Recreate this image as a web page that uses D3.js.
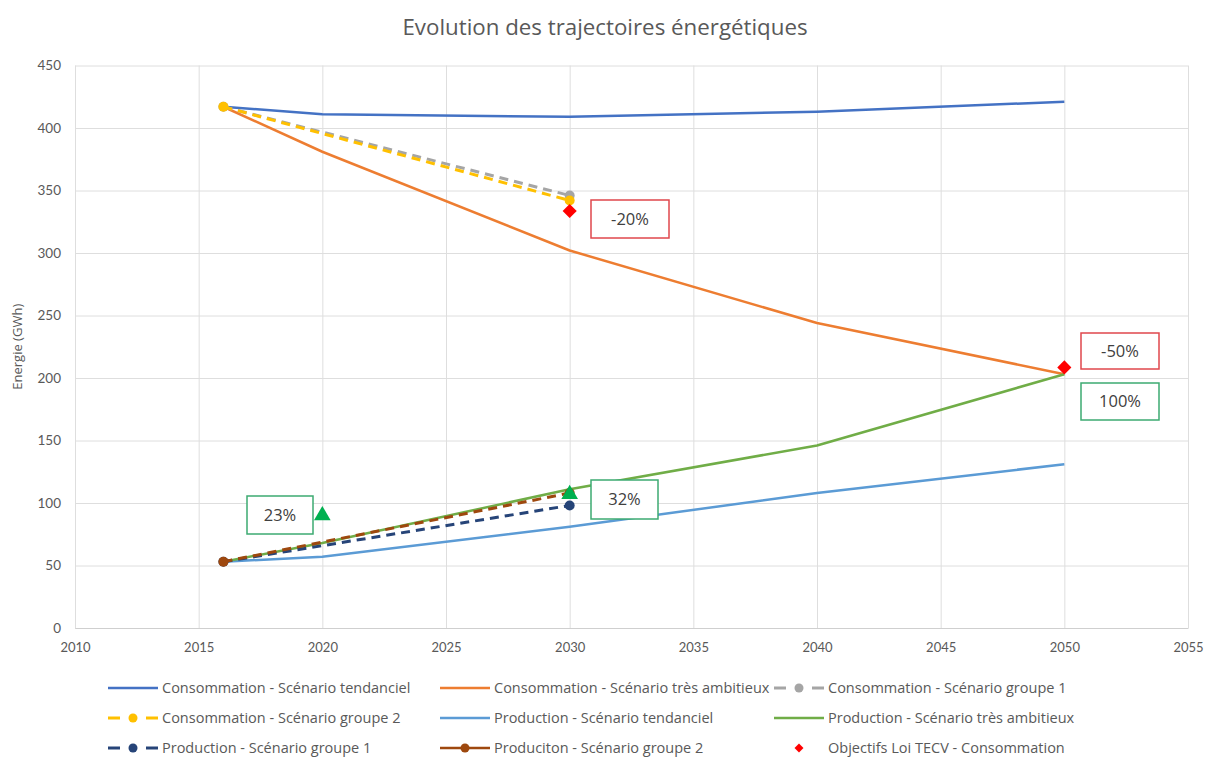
<!DOCTYPE html>
<html>
<head>
<meta charset="utf-8">
<script src="https://cdn.jsdelivr.net/npm/d3@7"></script>
<style>
  html, body { margin: 0; padding: 0; background: #fff; }
  svg { display: block; }
</style>
</head>
<body>
<svg id="chart" width="1208" height="774"></svg>
<script>
// ---- Données ----
const xTickValues = [2010, 2015, 2020, 2025, 2030, 2035, 2040, 2045, 2050, 2055];
const yTickValues = [0, 50, 100, 150, 200, 250, 300, 350, 400, 450];

const consoTendancielYears = [2016, 2020, 2030, 2040, 2050];
const consoTendancielValues = [417, 411, 409, 413, 421];

const consoAmbitieuxYears = [2016, 2020, 2030, 2040, 2050];
const consoAmbitieuxValues = [417, 381, 302, 244, 203];

const consoGroupe1Years = [2016, 2030];
const consoGroupe1Values = [417, 346];

const consoGroupe2Years = [2016, 2030];
const consoGroupe2Values = [417, 342];

const prodTendancielYears = [2016, 2020, 2030, 2040, 2050];
const prodTendancielValues = [53, 57, 81, 108, 131];

const prodAmbitieuxYears = [2016, 2020, 2030, 2040, 2050];
const prodAmbitieuxValues = [53, 68, 111, 146, 203];

const prodGroupe1Years = [2016, 2030];
const prodGroupe1Values = [53, 98];

const prodGroupe2Years = [2016, 2030];
const prodGroupe2Values = [53, 108];

const objectifsConsoYears = [2030, 2050];
const objectifsConsoValues = [333.6, 208.5];

const objectifsProdYears = [2020, 2030];
const objectifsProdValues = [90, 107];

const annotationLabels = ["-20%", "-50%", "100%", "23%", "32%"];

// ---- Mise en page ----
const svg = d3.select("#chart");
const W = 1208, H = 774;
const margin = { left: 75, right: 20, top: 65.5, bottom: 146 };
const plotW = 1188 - margin.left;
const plotH = 628 - margin.top;

const x = d3.scaleLinear().domain([2010, 2055]).range([margin.left, margin.left + plotW]);
const y = d3.scaleLinear().domain([0, 450]).range([margin.top + plotH, margin.top]);

const textColor = "#595959";
const gridColor = "#dedede";
const baseFont = "Lato, 'Open Sans', sans-serif";
const legendFont = "'Open Sans', sans-serif";

svg.append("rect").attr("width", W).attr("height", H).attr("fill", "#fff");

// Titre
svg.append("text")
  .attr("x", 605).attr("y", 35)
  .attr("text-anchor", "middle")
  .attr("font-family", "'Open Sans', sans-serif")
  .attr("font-size", 22.3)
  .attr("fill", textColor)
  .text("Evolution des trajectoires énergétiques");

// Grille
const gridY = svg.append("g")
  .attr("transform", `translate(${margin.left},0)`)
  .call(d3.axisLeft(y).tickValues(yTickValues).tickSize(-plotW).tickFormat(""));
gridY.select(".domain").remove();
gridY.selectAll("line").attr("stroke", gridColor).attr("stroke-width", 1);

const gridX = svg.append("g")
  .attr("transform", `translate(0,${margin.top + plotH})`)
  .call(d3.axisBottom(x).tickValues(xTickValues).tickSize(-plotH).tickFormat(""));
gridX.select(".domain").remove();
gridX.selectAll("line").attr("stroke", gridColor).attr("stroke-width", 1);

// Axe X (ligne de base + libellés)
const axX = svg.append("g")
  .attr("transform", `translate(0,${margin.top + plotH})`)
  .call(d3.axisBottom(x).tickValues(xTickValues).tickSize(0).tickPadding(15).tickFormat(d3.format("d")));
axX.select(".domain").attr("stroke", "#cfcfcf");
axX.selectAll("text").attr("font-family", baseFont).attr("font-size", 13).attr("fill", textColor);

// Axe Y
const axY = svg.append("g")
  .attr("transform", `translate(${margin.left},0)`)
  .call(d3.axisLeft(y).tickValues(yTickValues).tickSize(0).tickPadding(14).tickFormat(d3.format("d")));
axY.select(".domain").remove();
axY.selectAll("text").attr("font-family", baseFont).attr("font-size", 13.5).attr("fill", textColor);

svg.append("text")
  .attr("transform", `translate(22,${margin.top + plotH / 2}) rotate(-90)`)
  .attr("text-anchor", "middle")
  .attr("font-family", legendFont)
  .attr("font-size", 13)
  .attr("fill", textColor)
  .text("Energie (GWh)");

// ---- Séries ----
const zip = (ys, vs) => ys.map((yr, i) => ({ year: yr, value: vs[i] }));

const series = [
  { name: "Consommation - Scénario tendanciel", data: zip(consoTendancielYears, consoTendancielValues), color: "#4472C4", dash: null, marker: false },
  { name: "Consommation - Scénario très ambitieux", data: zip(consoAmbitieuxYears, consoAmbitieuxValues), color: "#ED7D31", dash: null, marker: false },
  { name: "Consommation - Scénario groupe 1", data: zip(consoGroupe1Years, consoGroupe1Values), color: "#A5A5A5", dash: "9,6", marker: true },
  { name: "Consommation - Scénario groupe 2", data: zip(consoGroupe2Years, consoGroupe2Values), color: "#FFC000", dash: "9,6", marker: true },
  { name: "Production - Scénario tendanciel", data: zip(prodTendancielYears, prodTendancielValues), color: "#5B9BD5", dash: null, marker: false },
  { name: "Production - Scénario très ambitieux", data: zip(prodAmbitieuxYears, prodAmbitieuxValues), color: "#70AD47", dash: null, marker: false },
  { name: "Production - Scénario groupe 1", data: zip(prodGroupe1Years, prodGroupe1Values), color: "#264478", dash: "9,6", marker: true },
  { name: "Produciton - Scénario groupe 2", data: zip(prodGroupe2Years, prodGroupe2Values), color: "#9E480E", dash: "9,6", marker: true, legendSolid: true },
  { name: "Objectifs Loi TECV - Consommation", data: zip(objectifsConsoYears, objectifsConsoValues), color: "#FF0000", dash: null, marker: "diamond", noLine: true }
];

const line = d3.line().x(d => x(d.year)).y(d => y(d.value));
const plot = svg.append("g");

series.forEach(s => {
  if (!s.noLine) {
    plot.append("path")
      .datum(s.data)
      .attr("fill", "none")
      .attr("stroke", s.color)
      .attr("stroke-width", s.dash ? 3 : 2.5)
      .attr("stroke-dasharray", s.dash)
      .attr("stroke-linejoin", "round")
      .attr("d", line);
  }
  if (s.marker === true) {
    plot.selectAll(null).data(s.data).enter().append("circle")
      .attr("cx", d => x(d.year)).attr("cy", d => y(d.value))
      .attr("r", 5).attr("fill", s.color);
  }
});

// Objectifs de production (triangles)
const tri = d3.symbol().type(d3.symbolTriangle).size(120);
plot.selectAll(null).data(zip(objectifsProdYears, objectifsProdValues)).enter().append("path")
  .attr("d", tri)
  .attr("transform", d => `translate(${x(d.year)},${y(d.value)})`)
  .attr("fill", "#00B050");

// Objectifs de consommation (losanges)
const diamond = d3.symbol().type(d3.symbolSquare).size(100);
plot.selectAll(null).data(series[8].data).enter().append("path")
  .attr("d", diamond)
  .attr("transform", d => `translate(${x(d.year)},${y(d.value)}) rotate(45)`)
  .attr("fill", "#FF0000");

// ---- Étiquettes encadrées ----
const boxLayout = [
  { x0: 591, y0: 200, x1: 669, y1: 238, stroke: "#E0474C" },
  { x0: 1081, y0: 333, x1: 1159, y1: 369, stroke: "#E0474C" },
  { x0: 1081, y0: 383, x1: 1159, y1: 420, stroke: "#3DAA72" },
  { x0: 247, y0: 496, x1: 313, y1: 534, stroke: "#3DAA72" },
  { x0: 591, y0: 480, x1: 658, y1: 519, stroke: "#3DAA72" }
];
const boxes = svg.append("g");
annotationLabels.forEach((label, i) => {
  const b = boxLayout[i];
  boxes.append("rect")
    .attr("x", b.x0).attr("y", b.y0)
    .attr("width", b.x1 - b.x0).attr("height", b.y1 - b.y0)
    .attr("fill", "#fff").attr("stroke", b.stroke).attr("stroke-width", 1.5);
  boxes.append("text")
    .attr("x", (b.x0 + b.x1) / 2).attr("y", (b.y0 + b.y1) / 2)
    .attr("dy", "0.36em")
    .attr("text-anchor", "middle")
    .attr("font-family", "'Open Sans', sans-serif")
    .attr("font-size", 16.5)
    .attr("fill", "#404040")
    .text(label);
});

// ---- Légende ----
const colX = [108, 440, 774];
const rowY = [688, 718, 748];
const legend = svg.append("g");
series.forEach((s, i) => {
  const cx = colX[i % 3], cy = rowY[Math.floor(i / 3)];
  const g = legend.append("g").attr("transform", `translate(${cx},${cy})`);
  const lw = 50;
  if (s.marker === "diamond") {
    g.append("path").attr("d", diamond.size(40))
      .attr("transform", `translate(${lw / 2},0) rotate(45)`).attr("fill", s.color);
  } else if (s.dash && !s.legendSolid) {
    // tiret court, point, tiret court
    [[0, 12], [38, 50]].forEach(([a, b]) => {
      g.append("line").attr("x1", a).attr("x2", b).attr("y1", 0).attr("y2", 0)
        .attr("stroke", s.color).attr("stroke-width", 3);
    });
    g.append("circle").attr("cx", lw / 2).attr("cy", 0).attr("r", 4.5).attr("fill", s.color);
  } else {
    g.append("line").attr("x1", 0).attr("x2", lw).attr("y1", 0).attr("y2", 0)
      .attr("stroke", s.color).attr("stroke-width", 2.5);
    if (s.marker === true) {
      g.append("circle").attr("cx", lw / 2).attr("cy", 0).attr("r", 4.5).attr("fill", s.color);
    }
  }
  g.append("text")
    .attr("x", lw + 4).attr("y", 0).attr("dy", "0.35em")
    .attr("font-family", legendFont).attr("font-size", 14.5)
    .attr("fill", textColor)
    .text(s.name);
});
</script>
</body>
</html>
